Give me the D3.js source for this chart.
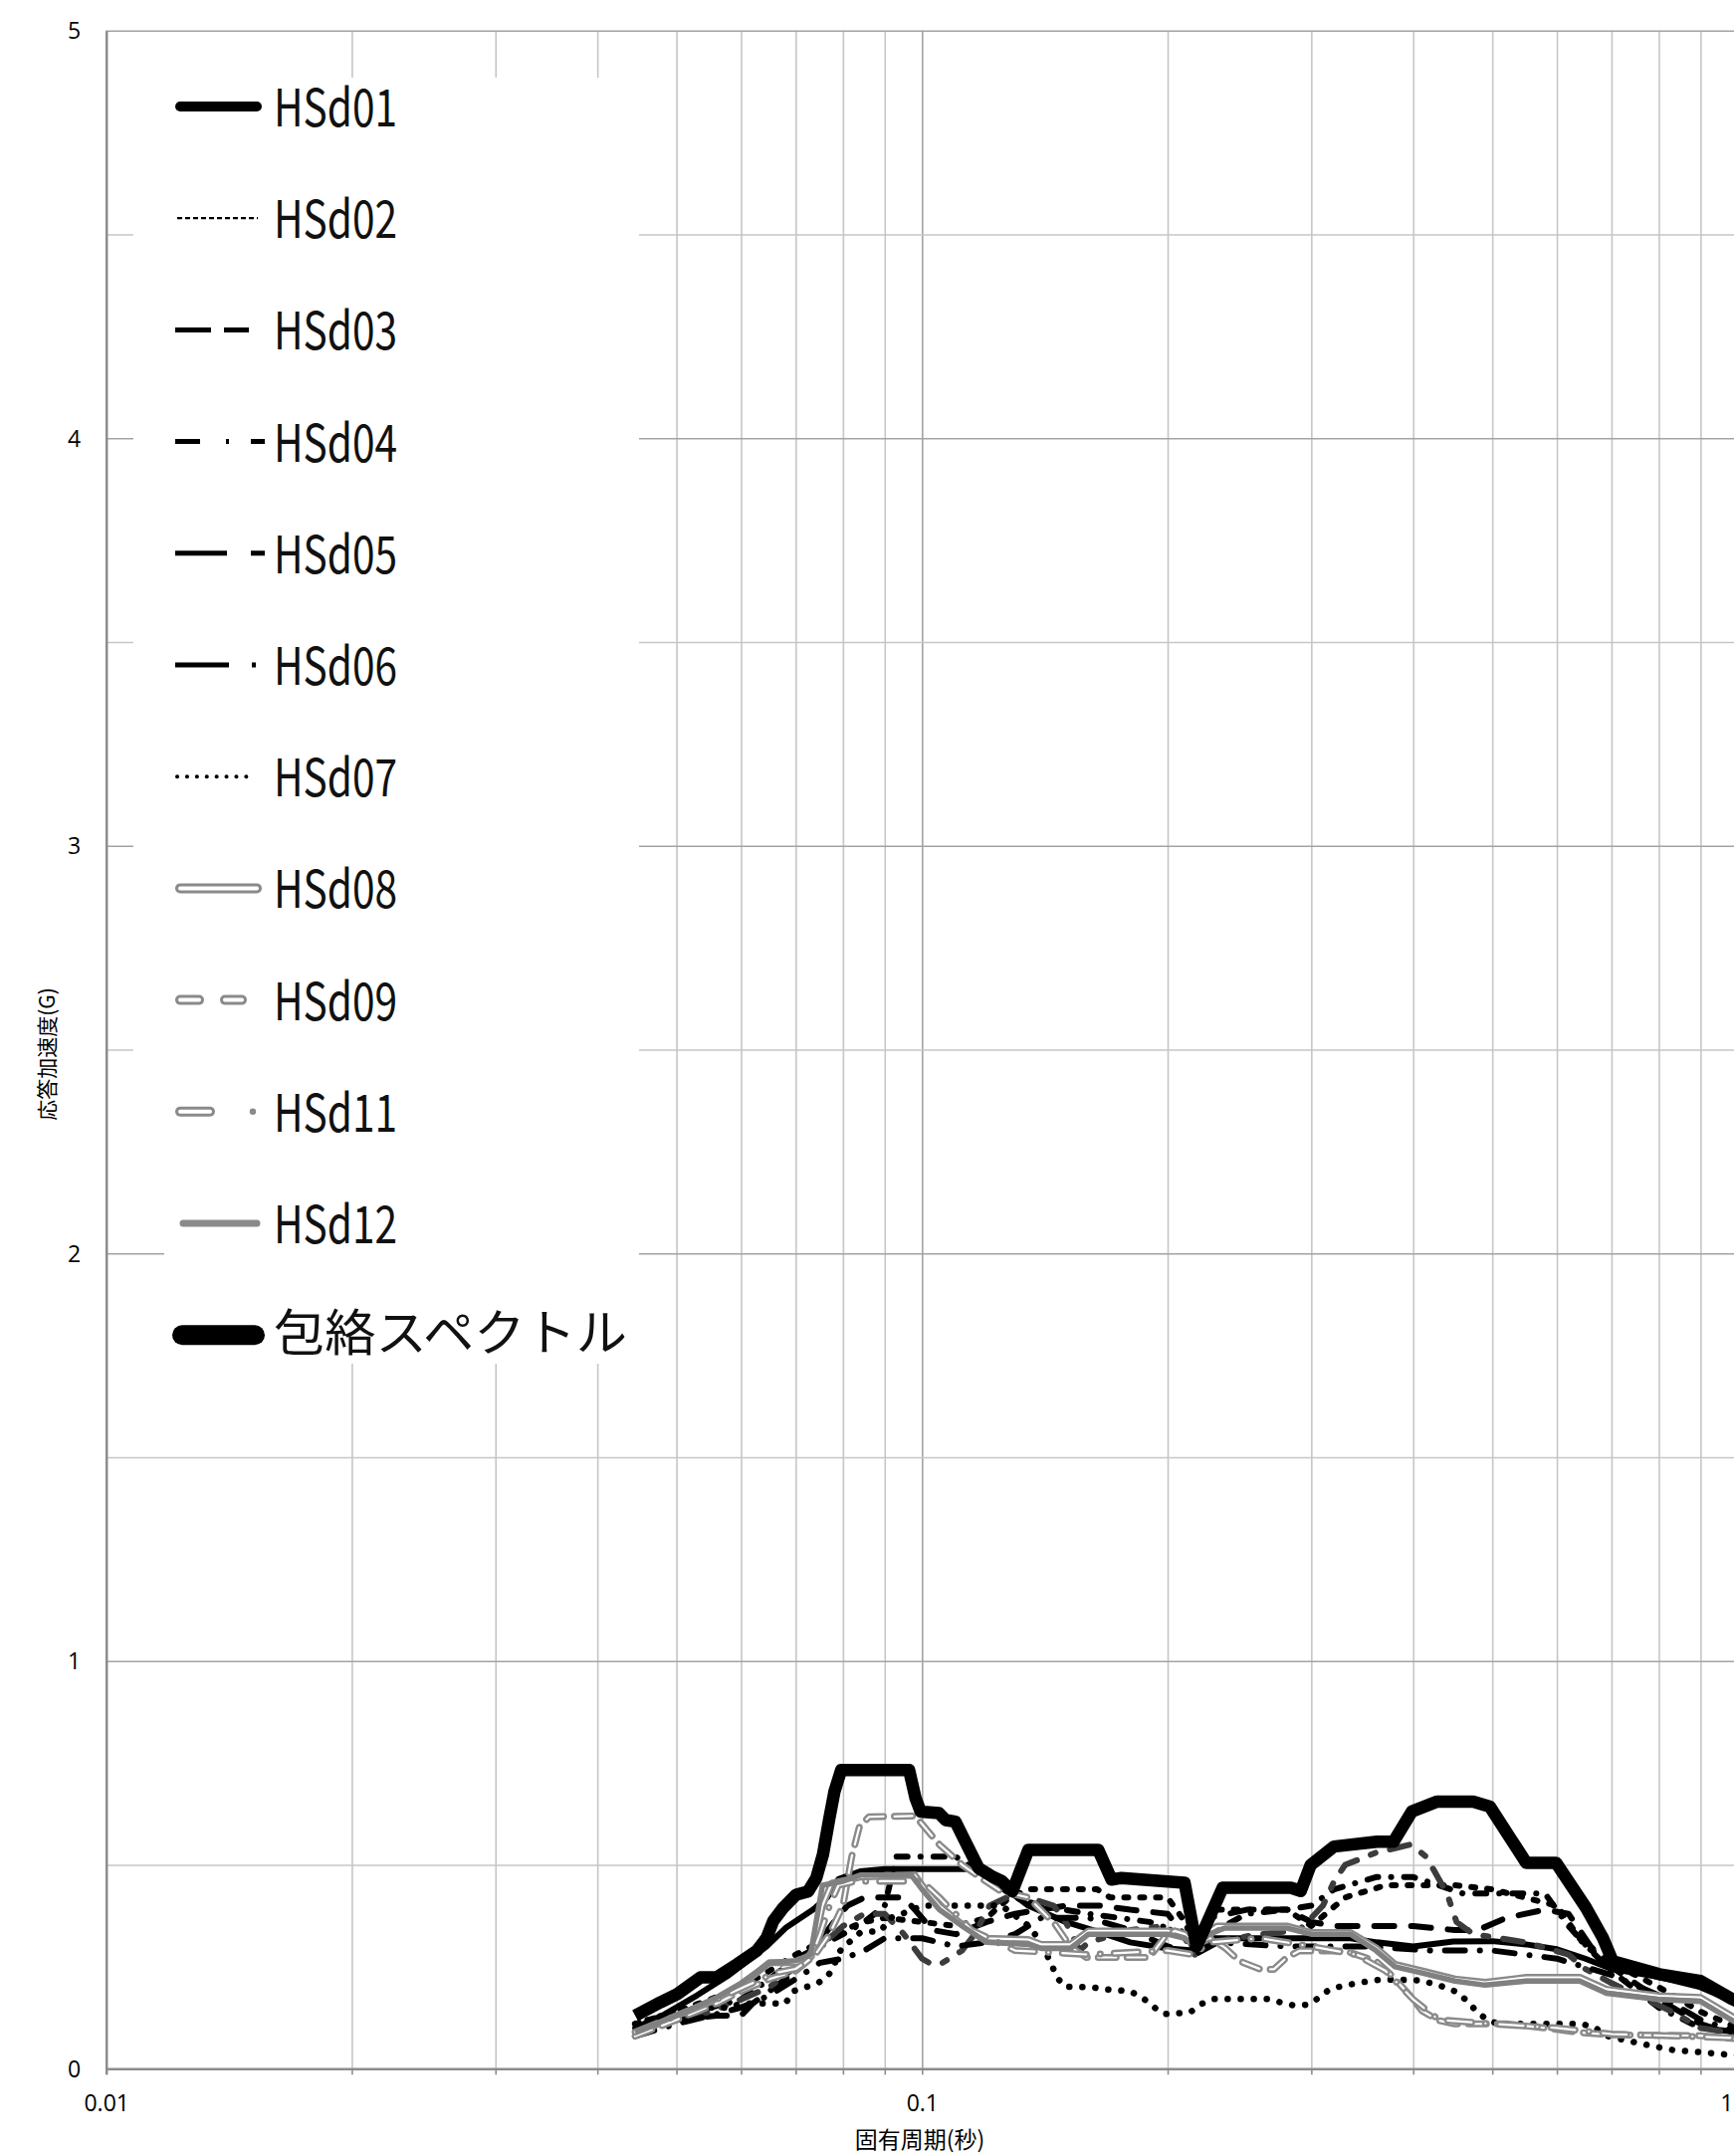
<!DOCTYPE html>
<html><head><meta charset="utf-8">
<script src="https://cdn.jsdelivr.net/npm/d3@7"></script>
<style>html,body{margin:0;padding:0;background:#fff;} svg{display:block;}</style>
</head><body><svg id="chart" width="1742" height="2166"></svg>
<script>
// ---------------- DATA ----------------
const seriesNames = ["HSd01","HSd02","HSd03","HSd04","HSd05","HSd06","HSd07","HSd08","HSd09","HSd11","HSd12","包絡スペクトル"];
const xGridTicks = [0.01,0.02,0.03,0.04,0.05,0.06,0.07,0.08,0.09,0.1,0.2,0.3,0.4,0.5,0.6,0.7,0.8,0.9,1];
const xLabelTicks = [0.01, 0.1, 1];
const yGridTicks = [0,0.5,1,1.5,2,2.5,3,3.5,4,4.5,5];
const yLabelTicks = [0,1,2,3,4,5];
const xTitle = "固有周期(秒)";
const yTitle = "応答加速度(G)";

// [period (s), acceleration (G)]
const hsd01 = [[0.0445,0.10],[0.048,0.13],[0.053,0.18],[0.058,0.23],[0.0645,0.30],[0.068,0.345],[0.0735,0.39],[0.0765,0.42],[0.079,0.465],[0.084,0.484],[0.09,0.49],[0.117,0.49],[0.125,0.45],[0.135,0.40],[0.15,0.36],[0.165,0.335],[0.18,0.31],[0.2,0.295],[0.215,0.29],[0.228,0.32],[0.335,0.32],[0.361,0.31],[0.40,0.30],[0.448,0.312],[0.50,0.313],[0.55,0.305],[0.60,0.293],[0.65,0.27],[0.70,0.245],[0.80,0.225],[0.90,0.20],[1.0,0.16]];
const hsd02 = [[0.0445,0.11],[0.05,0.14],[0.055,0.17],[0.06,0.20],[0.065,0.24],[0.07,0.28],[0.075,0.31],[0.08,0.34],[0.085,0.36],[0.09,0.37],[0.1,0.36],[0.11,0.35],[0.12,0.37],[0.128,0.42],[0.135,0.44],[0.164,0.44],[0.17,0.42],[0.2,0.42],[0.21,0.36],[0.216,0.30],[0.225,0.36],[0.23,0.39],[0.28,0.39],[0.29,0.37],[0.30,0.35],[0.33,0.42],[0.37,0.45],[0.45,0.45],[0.5,0.44],[0.6,0.40],[0.65,0.30],[0.7,0.26],[0.8,0.20],[0.9,0.14],[1.0,0.10]];
const hsd03 = [[0.0445,0.09],[0.05,0.12],[0.056,0.13],[0.060,0.13],[0.062,0.16],[0.066,0.20],[0.070,0.24],[0.074,0.30],[0.078,0.36],[0.081,0.40],[0.085,0.42],[0.095,0.42],[0.098,0.39],[0.103,0.34],[0.11,0.33],[0.12,0.36],[0.13,0.38],[0.15,0.40],[0.165,0.40],[0.18,0.39],[0.20,0.38],[0.215,0.30],[0.225,0.37],[0.25,0.39],[0.28,0.39],[0.30,0.36],[0.32,0.35],[0.40,0.35],[0.45,0.34],[0.48,0.34],[0.52,0.37],[0.58,0.39],[0.62,0.38],[0.66,0.30],[0.70,0.25],[0.80,0.17],[0.90,0.11],[1.0,0.08]];
const hsd04 = [[0.0445,0.10],[0.05,0.13],[0.055,0.15],[0.06,0.17],[0.065,0.22],[0.07,0.27],[0.075,0.30],[0.08,0.33],[0.085,0.36],[0.09,0.40],[0.093,0.52],[0.11,0.52],[0.12,0.47],[0.13,0.42],[0.14,0.40],[0.16,0.38],[0.19,0.36],[0.21,0.33],[0.216,0.29],[0.225,0.33],[0.25,0.38],[0.28,0.39],[0.30,0.40],[0.32,0.44],[0.36,0.47],[0.40,0.47],[0.43,0.45],[0.46,0.43],[0.58,0.43],[0.62,0.35],[0.66,0.29],[0.70,0.24],[0.80,0.15],[0.90,0.10],[1.0,0.09]];
const hsd05 = [[0.0445,0.09],[0.05,0.12],[0.055,0.14],[0.06,0.17],[0.065,0.20],[0.07,0.25],[0.075,0.30],[0.08,0.35],[0.085,0.38],[0.09,0.38],[0.095,0.33],[0.100,0.27],[0.103,0.255],[0.106,0.26],[0.112,0.29],[0.116,0.33],[0.121,0.40],[0.13,0.43],[0.145,0.40],[0.15,0.36],[0.156,0.29],[0.16,0.31],[0.18,0.34],[0.198,0.35],[0.21,0.32],[0.216,0.28],[0.225,0.31],[0.26,0.33],[0.29,0.34],[0.30,0.37],[0.31,0.40],[0.32,0.46],[0.33,0.50],[0.36,0.53],[0.397,0.55],[0.415,0.52],[0.44,0.43],[0.452,0.36],[0.474,0.33],[0.55,0.31],[0.62,0.28],[0.65,0.245],[0.70,0.21],[0.81,0.15],[0.83,0.14],[0.90,0.10],[1.0,0.085]];
const hsd06 = [[0.0445,0.08],[0.05,0.11],[0.055,0.13],[0.06,0.15],[0.065,0.18],[0.07,0.22],[0.075,0.26],[0.08,0.27],[0.085,0.29],[0.09,0.32],[0.1,0.32],[0.11,0.30],[0.12,0.31],[0.13,0.33],[0.14,0.37],[0.16,0.37],[0.18,0.34],[0.20,0.30],[0.216,0.28],[0.23,0.31],[0.28,0.30],[0.35,0.30],[0.42,0.29],[0.5,0.29],[0.6,0.27],[0.7,0.23],[0.8,0.18],[0.9,0.12],[1.0,0.09]];
const hsd07 = [[0.0445,0.11],[0.048,0.13],[0.052,0.15],[0.058,0.15],[0.060,0.16],[0.068,0.16],[0.0695,0.19],[0.072,0.20],[0.0745,0.21],[0.0765,0.225],[0.078,0.25],[0.0786,0.275],[0.080,0.30],[0.082,0.315],[0.084,0.334],[0.089,0.338],[0.0915,0.37],[0.096,0.385],[0.100,0.40],[0.125,0.40],[0.128,0.386],[0.136,0.346],[0.1415,0.289],[0.1441,0.256],[0.1463,0.224],[0.1497,0.201],[0.161,0.20],[0.1676,0.195],[0.18,0.19],[0.1866,0.173],[0.1924,0.151],[0.198,0.134],[0.213,0.138],[0.22,0.159],[0.228,0.171],[0.265,0.171],[0.275,0.163],[0.286,0.155],[0.297,0.157],[0.307,0.175],[0.315,0.193],[0.327,0.203],[0.340,0.209],[0.353,0.215],[0.366,0.219],[0.407,0.217],[0.43,0.205],[0.454,0.187],[0.467,0.163],[0.480,0.138],[0.494,0.118],[0.51,0.11],[0.642,0.11],[0.667,0.102],[0.689,0.081],[0.716,0.073],[0.771,0.059],[0.831,0.046],[0.896,0.041],[0.965,0.035],[1.0,0.033]];
const hsd08 = [[0.0445,0.085],[0.050,0.13],[0.056,0.17],[0.060,0.205],[0.065,0.26],[0.0715,0.26],[0.0735,0.29],[0.0755,0.40],[0.0775,0.455],[0.084,0.47],[0.098,0.475],[0.100,0.45],[0.105,0.40],[0.111,0.36],[0.119,0.32],[0.135,0.317],[0.14,0.305],[0.152,0.305],[0.16,0.338],[0.20,0.338],[0.21,0.325],[0.216,0.305],[0.222,0.33],[0.23,0.35],[0.28,0.35],[0.30,0.334],[0.335,0.334],[0.36,0.297],[0.38,0.256],[0.41,0.24],[0.45,0.22],[0.49,0.212],[0.55,0.224],[0.64,0.224],[0.69,0.195],[0.80,0.179],[0.90,0.175],[1.0,0.12]];
const hsd09 = [[0.0445,0.08],[0.050,0.12],[0.056,0.16],[0.060,0.19],[0.065,0.22],[0.070,0.24],[0.074,0.28],[0.077,0.33],[0.080,0.40],[0.082,0.52],[0.0838,0.594],[0.0861,0.618],[0.098,0.62],[0.100,0.60],[0.105,0.55],[0.112,0.50],[0.118,0.468],[0.125,0.435],[0.135,0.42],[0.1456,0.354],[0.1524,0.297],[0.159,0.273],[0.19,0.273],[0.198,0.321],[0.204,0.338],[0.21,0.33],[0.216,0.30],[0.225,0.321],[0.235,0.297],[0.245,0.264],[0.26,0.244],[0.27,0.244],[0.28,0.273],[0.29,0.289],[0.33,0.289],[0.36,0.264],[0.375,0.232],[0.395,0.183],[0.41,0.142],[0.43,0.118],[0.45,0.11],[0.52,0.11],[0.58,0.10],[0.64,0.089],[0.70,0.083],[0.9,0.081],[1.0,0.073]];
const hsd11 = [[0.0445,0.09],[0.05,0.13],[0.056,0.17],[0.062,0.21],[0.066,0.235],[0.07,0.245],[0.073,0.27],[0.075,0.33],[0.077,0.40],[0.079,0.45],[0.083,0.46],[0.1,0.46],[0.105,0.42],[0.115,0.34],[0.13,0.29],[0.16,0.28],[0.20,0.29],[0.215,0.28],[0.225,0.31],[0.26,0.32],[0.30,0.30],[0.34,0.28],[0.37,0.24],[0.40,0.17],[0.43,0.12],[0.5,0.11],[0.6,0.10],[0.7,0.085],[0.85,0.08],[1.0,0.075]];
const hsd12 = [[0.0445,0.09],[0.05,0.13],[0.056,0.175],[0.06,0.21],[0.065,0.26],[0.07,0.265],[0.073,0.28],[0.0755,0.45],[0.08,0.46],[0.084,0.475],[0.097,0.475],[0.10,0.44],[0.105,0.39],[0.112,0.35],[0.12,0.31],[0.135,0.305],[0.14,0.295],[0.152,0.295],[0.16,0.33],[0.20,0.33],[0.21,0.32],[0.216,0.30],[0.225,0.33],[0.235,0.345],[0.28,0.345],[0.30,0.33],[0.335,0.33],[0.36,0.29],[0.38,0.25],[0.41,0.235],[0.45,0.215],[0.49,0.205],[0.55,0.215],[0.64,0.215],[0.69,0.185],[0.80,0.17],[0.90,0.165],[1.0,0.11]];
const envelope = [[0.0445,0.130],[0.0478,0.163],[0.0501,0.183],[0.0535,0.224],[0.0560,0.224],[0.0593,0.256],[0.0627,0.289],[0.0645,0.321],[0.0657,0.362],[0.0676,0.395],[0.0701,0.427],[0.0725,0.435],[0.0742,0.468],[0.0756,0.525],[0.0770,0.615],[0.0781,0.680],[0.0796,0.733],[0.0964,0.733],[0.0982,0.663],[0.0996,0.631],[0.1049,0.627],[0.1069,0.610],[0.1099,0.606],[0.1130,0.557],[0.1173,0.492],[0.1218,0.472],[0.1253,0.460],[0.1290,0.435],[0.1350,0.537],[0.1376,0.537],[0.1644,0.537],[0.1707,0.464],[0.1756,0.468],[0.2098,0.456],[0.2170,0.300],[0.2336,0.444],[0.2831,0.444],[0.2912,0.436],[0.2995,0.500],[0.3198,0.545],[0.3611,0.557],[0.3784,0.557],[0.3984,0.631],[0.4273,0.655],[0.4738,0.655],[0.4966,0.643],[0.5503,0.505],[0.5987,0.505],[0.6513,0.395],[0.6827,0.322],[0.7022,0.264],[0.8008,0.232],[0.8998,0.215],[0.9836,0.171],[1.0,0.165]];

const seriesData = [hsd01,hsd02,hsd03,hsd04,hsd05,hsd06,hsd07,hsd08,hsd09,hsd11,hsd12,envelope];

// ---------------- STYLES ----------------
const GRAY = "#8a8a8a";
const chartStyles = [
  {color:"#000", width:6},
  {color:"#000", width:6, dash:"4,12", cap:"round"},
  {color:"#000", width:6, dash:"20,17", cap:"round"},
  {color:"#000", width:6, dash:"11,13,0.1,13", cap:"round"},
  {color:"#3c3c3c", width:6, dash:"20,15,5,15", cap:"round"},
  {color:"#000", width:6, dash:"20,15,0.1,15", cap:"round"},
  {color:"#000", width:6.5, dash:"0.1,13", cap:"round"},
  {color:GRAY, width:7, double:true},
  {color:GRAY, width:7, dash:"18,11", cap:"round", double:true},
  {color:GRAY, width:7, dash:"24,14,0.1,14", cap:"round", double:true},
  {color:"#808080", width:5.5},
  {color:"#000", width:12.5}
];

const W = 1742, H = 2166;
const svg = d3.select("#chart");
const x = d3.scaleLog().domain([0.01, 1]).range([106.7, 1745.9]);
const y = d3.scaleLinear().domain([0, 5]).range([2078.3, 30.8]);
const plotW = x.range()[1] - x.range()[0];
const plotH = y.range()[0] - y.range()[1];

// gridlines
const isMajorX = d => Math.abs(Math.log10(d) - Math.round(Math.log10(d))) < 1e-9;
const gx = svg.append("g").attr("transform", `translate(0,${y(0)})`)
  .call(d3.axisBottom(x).tickValues(xGridTicks).tickSize(-plotH).tickFormat(""));
gx.select(".domain").remove();
gx.selectAll(".tick line").attr("stroke", d => isMajorX(d) ? "#a3a3a3" : "#c6c6c6").attr("stroke-width", 1.6);

const gy = svg.append("g").attr("transform", `translate(${x(0.01)},0)`)
  .call(d3.axisLeft(y).tickValues(yGridTicks).tickSize(-plotW).tickFormat(""));
gy.select(".domain").remove();
gy.selectAll(".tick line").attr("stroke", d => Number.isInteger(d) ? "#a3a3a3" : "#c6c6c6").attr("stroke-width", 1.6);

// legend white background (covers gridlines)
svg.append("rect").attr("x",134).attr("y",78).attr("width",508).attr("height",1160-78).attr("fill","#fff");
svg.append("rect").attr("x",165).attr("y",1150).attr("width",477).attr("height",1370-1150).attr("fill","#fff");

// axes
const xAxis = svg.append("g").attr("transform", `translate(0,${y(0)})`)
  .call(d3.axisBottom(x).tickValues(xGridTicks).tickSize(6)
    .tickFormat(d => xLabelTicks.some(v => Math.abs(v - d) < 1e-9) ? String(d) : ""));
xAxis.select(".domain").attr("stroke", "#8c8c8c").attr("stroke-width", 2.5);
xAxis.selectAll(".tick line").attr("stroke", "#8c8c8c").attr("stroke-width", 1.6);
xAxis.selectAll(".tick text").attr("y", 35).attr("dy", "0.35em")
  .attr("font-family", "'Open Sans', sans-serif").attr("font-size", 23).attr("fill", "#000");
// last label sits at the clipped right edge: keep it inside the page
xAxis.selectAll(".tick text").filter(d => Math.abs(d - 1) < 1e-9)
  .attr("text-anchor", "end").attr("x", W - 1 - x(1));

const yAxis = svg.append("g").attr("transform", `translate(${x(0.01)},0)`)
  .call(d3.axisLeft(y).tickValues(yLabelTicks).tickSize(0).tickFormat(d3.format("d")));
yAxis.select(".domain").attr("stroke", "#8c8c8c").attr("stroke-width", 2.5);
yAxis.selectAll(".tick text").attr("x", -32).attr("dy", "0.35em").attr("text-anchor", "middle")
  .attr("font-family", "'Open Sans', sans-serif").attr("font-size", 23).attr("fill", "#000");

// axis titles
svg.append("text").attr("x", 924).attr("y", 2158).attr("text-anchor", "middle")
  .attr("font-family", "'Noto Sans CJK JP', sans-serif").attr("font-size", 23).text(xTitle);
svg.append("text").attr("transform", "translate(55,1059) rotate(-90)").attr("text-anchor", "middle")
  .attr("font-family", "'Noto Sans CJK JP', sans-serif").attr("font-size", 21).text(yTitle);

// series lines
const line = d3.line().x(d => x(d[0])).y(d => y(d[1]));
const gLines = svg.append("g");
seriesData.forEach((data, i) => {
  const s = chartStyles[i];
  const p = gLines.append("path").attr("d", line(data)).attr("fill", "none")
    .attr("stroke", s.color).attr("stroke-width", s.width)
    .attr("stroke-linejoin", "round").attr("stroke-linecap", s.cap || "butt");
  if (s.dash) p.attr("stroke-dasharray", s.dash);
  if (s.double) {
    const q = gLines.append("path").attr("d", line(data)).attr("fill", "none")
      .attr("stroke", "#fff").attr("stroke-width", 2.2)
      .attr("stroke-linejoin", "round").attr("stroke-linecap", s.cap || "butt");
    if (s.dash) q.attr("stroke-dasharray", s.dash);
  }
});

// ---------------- LEGEND ----------------
const legY0 = 107, legStep = 112.2;
const legendStyles = [
  {x1:181, x2:258, color:"#000", width:10, cap:"round"},
  {x1:178, x2:259, color:"#000", width:2.2, dash:"5,3"},
  {x1:176, x2:250, color:"#000", width:5, dash:"36,13"},
  {x1:176, x2:266, color:"#000", width:5, dash:"25,26,3,22,14,100"},
  {x1:176, x2:266, color:"#000", width:5, dash:"52,24,14,100"},
  {x1:176, x2:258, color:"#000", width:5, dash:"54,23,4,100"},
  {x1:178, x2:256, color:"#000", width:4, dash:"0.1,9.8", cap:"round"},
  {x1:181, x2:258, color:GRAY, width:10, cap:"round", double:true},
  {x1:181, x2:244, color:GRAY, width:10, cap:"round", dash:"19,26,17,100", double:true},
  {x1:181, x2:211, color:GRAY, width:10, cap:"round", double:true, dot:254},
  {x1:184, x2:258, color:"#8a8a8a", width:7, cap:"round"},
  {x1:183, x2:256, color:"#000", width:20, cap:"round"}
];
const gLeg = svg.append("g");
seriesNames.forEach((name, i) => {
  const ly = legY0 + i * legStep;
  const s = legendStyles[i];
  const l = gLeg.append("line").attr("x1", s.x1).attr("x2", s.x2).attr("y1", ly).attr("y2", ly)
    .attr("stroke", s.color).attr("stroke-width", s.width).attr("stroke-linecap", s.cap || "butt");
  if (s.dash) l.attr("stroke-dasharray", s.dash);
  if (s.double) {
    const l2 = gLeg.append("line").attr("x1", s.x1).attr("x2", s.x2).attr("y1", ly).attr("y2", ly)
      .attr("stroke", "#fff").attr("stroke-width", 4).attr("stroke-linecap", s.cap || "butt");
    if (s.dash) l2.attr("stroke-dasharray", s.dash);
  }
  if (s.dot) gLeg.append("circle").attr("cx", s.dot).attr("cy", ly).attr("r", 3.2).attr("fill", GRAY);
  const isJa = i === seriesNames.length - 1;
  gLeg.append("text").attr("x", 275).attr("y", isJa ? ly + 16 : ly + 20)
    .attr("font-family", "'Noto Sans CJK JP', sans-serif")
    .attr("font-size", isJa ? 50 : 52)
    .attr("textLength", isJa ? 355 : 124).attr("lengthAdjust", "spacingAndGlyphs")
    .attr("fill", "#111").text(name);
});
</script>
</body></html>
